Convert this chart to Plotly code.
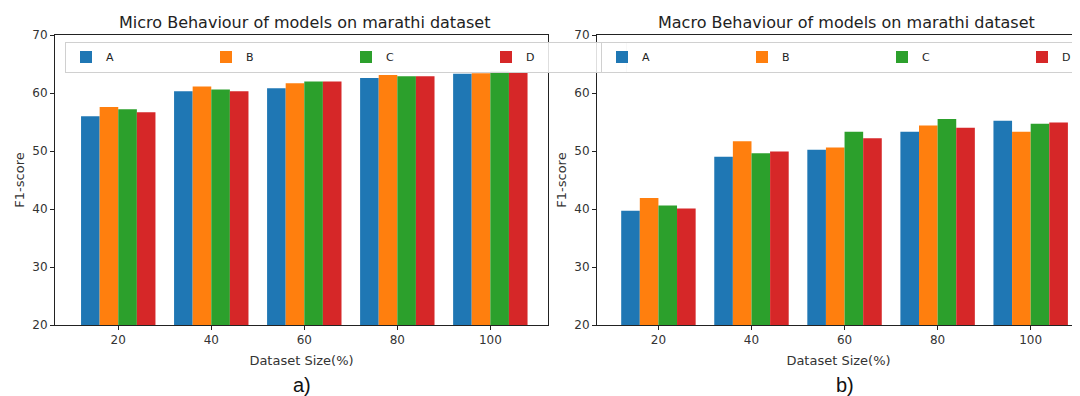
import plotly.graph_objects as go

categories = ["20", "40", "60", "80", "100"]
models = ["A", "B", "C", "D"]
colors = ["#1f77b4", "#ff7f0e", "#2ca02c", "#d62728"]

micro_A = [56.0, 60.3, 60.8, 62.6, 63.3]
micro_B = [57.6, 61.1, 61.7, 63.1, 63.4]
micro_C = [57.2, 60.6, 62.0, 62.9, 63.7]
micro_D = [56.7, 60.3, 62.0, 62.9, 63.5]

macro_A = [39.7, 49.0, 50.2, 53.3, 55.2]
macro_B = [41.9, 51.7, 50.6, 54.4, 53.3]
macro_C = [40.6, 49.6, 53.3, 55.5, 54.7]
macro_D = [40.1, 49.9, 52.2, 54.0, 54.9]

micro = [micro_A, micro_B, micro_C, micro_D]
macro = [macro_A, macro_B, macro_C, macro_D]

# page has an 8px body margin; work in page pixels and convert
OFF = 8
W, H = 1080 - OFF, 396 - OFF
top, bottom = 35 - OFF, 325 - OFF
ph = bottom - top

def fx(px):
    return (px - OFF) / W

def fy(py):
    return (bottom - (py - OFF)) / ph

fig = go.Figure()
for name, col, vals in zip(models, colors, micro):
    fig.add_trace(go.Bar(x=categories, y=vals, name=name, marker_color=col,
                         marker_line_width=0, xaxis="x", yaxis="y", legend="legend"))
for name, col, vals in zip(models, colors, macro):
    fig.add_trace(go.Bar(x=categories, y=vals, name=name, marker_color=col,
                         marker_line_width=0, xaxis="x2", yaxis="y2", legend="legend2"))

font = "DejaVu Sans"
tickfont = dict(family=font, size=12, color="#333")
labfont = dict(family=font, size=13, color="#333")
axis_common = dict(showline=True, linecolor="#222", linewidth=1, ticks="outside",
                   ticklen=4, tickcolor="#222", showgrid=False, zeroline=False,
                   automargin=False, tickfont=tickfont)

legend_common = dict(orientation="h", bgcolor="rgba(255,255,255,0.85)",
                     bordercolor="#d0d0d0", borderwidth=1,
                     font=dict(family=font, size=11, color="#222"),
                     entrywidth=95, entrywidthmode="pixels",
                     xanchor="left", yanchor="top", tracegroupgap=0,
                     itemclick=False)

fig.update_layout(
    width=W, height=H,
    margin=dict(l=0, r=0, t=top, b=H - bottom, pad=0, autoexpand=False),
    template="none",
    paper_bgcolor="white", plot_bgcolor="white",
    barmode="group", bargap=0.2, bargroupgap=0,
    xaxis=dict(type="category", domain=[fx(55), fx(548)], range=[-0.68, 4.62], mirror=True,
               title=dict(text="Dataset Size(%)", font=labfont, standoff=9),
               anchor="y", **axis_common),
    yaxis=dict(domain=[0, 1], range=[20, 70], dtick=10, mirror=True,
               title=dict(text="F1-score", font=labfont, standoff=4),
               anchor="x", **axis_common),
    xaxis2=dict(type="category", domain=[fx(597), 1.0], range=[-0.66, 4.53], mirror=True,
                title=dict(text="Dataset Size(%)", font=labfont, standoff=9),
                anchor="y2", **axis_common),
    yaxis2=dict(domain=[0, 1], range=[20, 70], dtick=10, mirror=False,
                title=dict(text="F1-score", font=labfont, standoff=4),
                anchor="x2", **axis_common),
    legend=dict(x=fx(65), y=fy(41.5), **legend_common),
    legend2=dict(x=fx(601), y=fy(41.5), **legend_common),
    showlegend=True,
    annotations=[
        dict(text="Micro Behaviour of models on marathi dataset", x=fx(304), y=fy(22),
             xref="paper", yref="paper", showarrow=False, xanchor="center", yanchor="middle",
             font=dict(family=font, size=16, color="#222")),
        dict(text="Macro Behaviour of models on marathi dataset", x=fx(846), y=fy(22),
             xref="paper", yref="paper", showarrow=False, xanchor="center", yanchor="middle",
             font=dict(family=font, size=16, color="#222")),
        dict(text="a)", x=fx(302), y=fy(385), xref="paper", yref="paper", showarrow=False,
             xanchor="center", yanchor="middle",
             font=dict(family="Liberation Sans", size=20, color="#111")),
        dict(text="b)", x=fx(845), y=fy(385), xref="paper", yref="paper", showarrow=False,
             xanchor="center", yanchor="middle",
             font=dict(family="Liberation Sans", size=20, color="#111")),
    ],
)

fig.write_html("out.html")
